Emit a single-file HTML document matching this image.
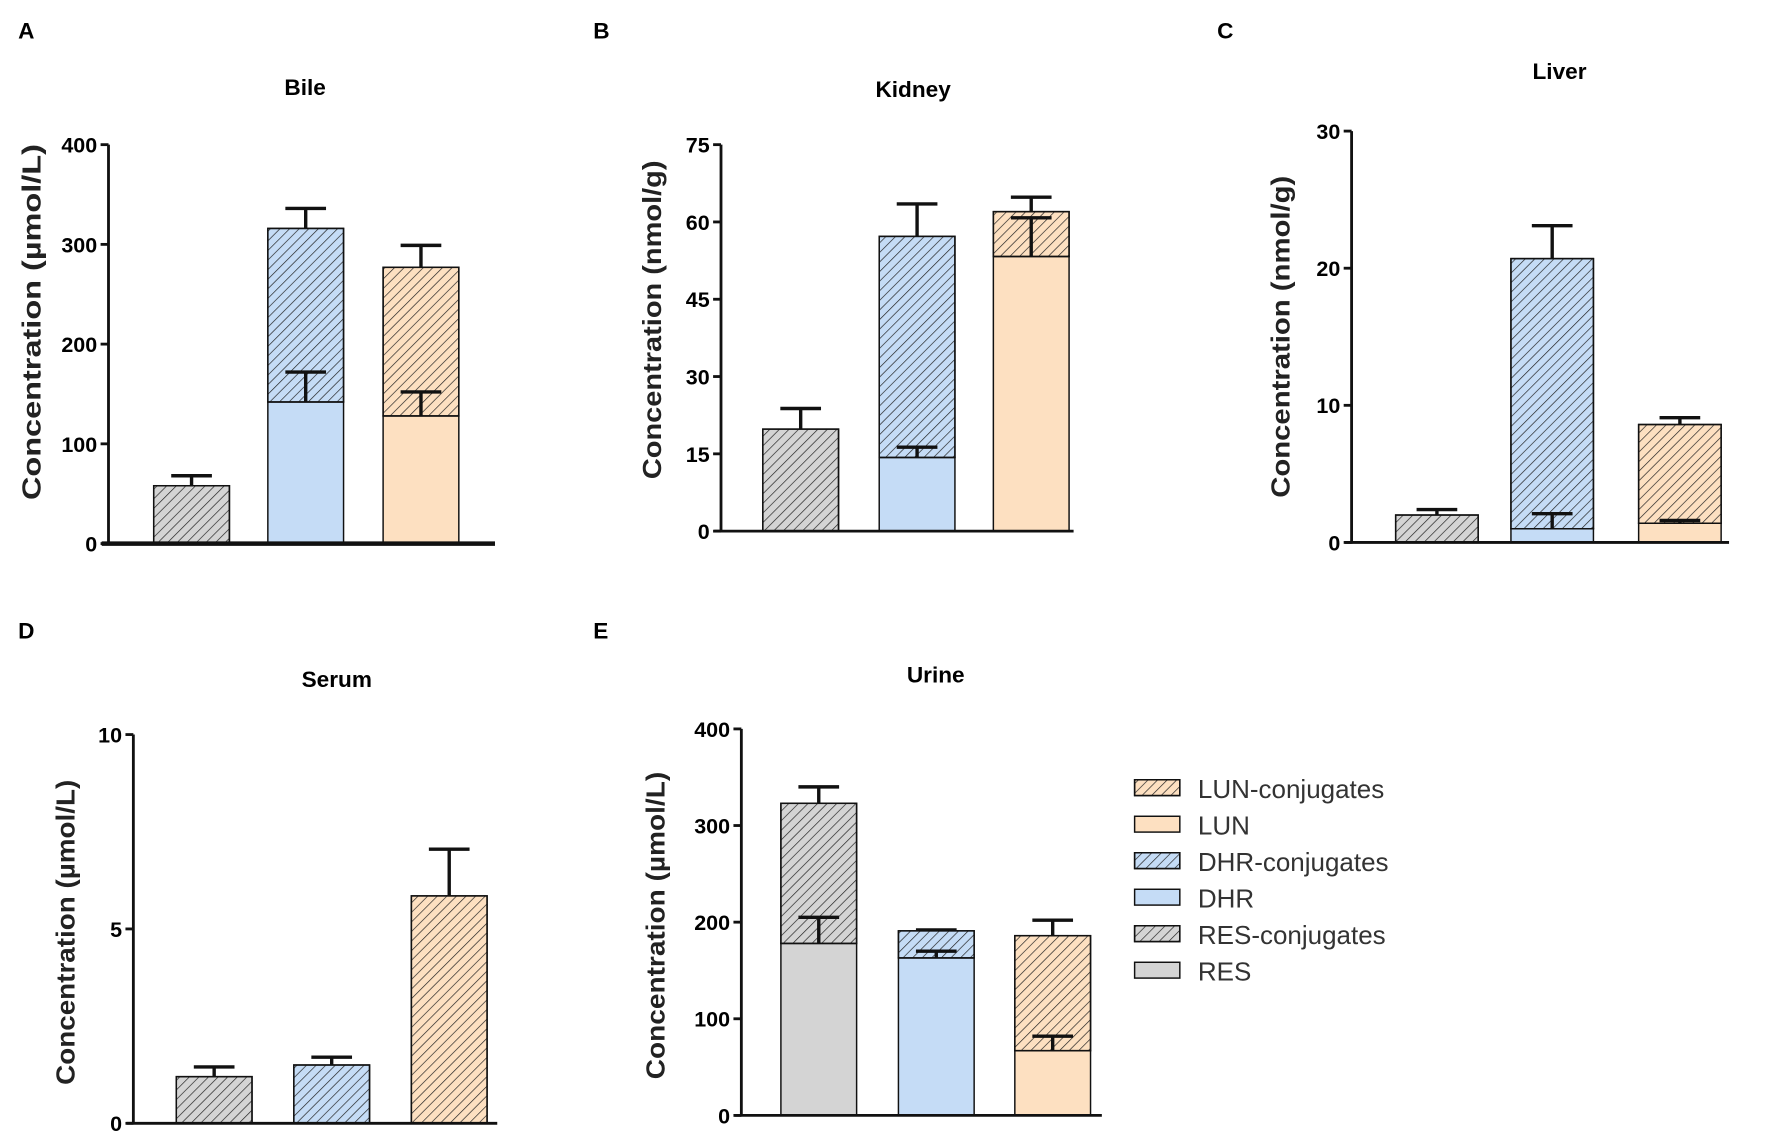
<!DOCTYPE html>
<html><head><meta charset="utf-8"><style>body{margin:0;background:#fff}svg{display:block}</style></head>
<body>
<svg id="fig" width="1772" height="1138" viewBox="0 0 1568 1007" xmlns="http://www.w3.org/2000/svg" font-family="Liberation Sans, Arial, sans-serif">
<defs>
<pattern id="hatch" patternUnits="userSpaceOnUse" width="6" height="6" patternTransform="rotate(45)"><line x1="0" y1="0" x2="0" y2="6" stroke="#222" stroke-width="1.2"/></pattern>
</defs>
</svg>
<script>
const colors = {RES:'#d4d4d4', DHR:'#c5dcf6', LUN:'#fde0c1'};
// Panel data
const bileCats = ['RES','DHR','LUN'];
const bileBase = [0, 142, 128];
const bileBaseErr = [0, 172, 152];
const bileTotal = [58, 316, 277];
const bileTotalErr = [68, 336, 299];
const kidneyBase = [0, 14.3, 53.3];
const kidneyBaseErr = [0, 16.3, 60.8];
const kidneyTotal = [19.8, 57.2, 62];
const kidneyTotalErr = [23.8, 63.5, 64.8];
const liverBase = [0, 1.0, 1.4];
const liverBaseErr = [0, 2.1, 1.6];
const liverTotal = [2.0, 20.7, 8.6];
const liverTotalErr = [2.4, 23.1, 9.1];
const serumBase = [0, 0, 0];
const serumBaseErr = [0, 0, 0];
const serumTotal = [1.2, 1.5, 5.85];
const serumTotalErr = [1.45, 1.7, 7.05];
const urineBase = [178, 163, 67];
const urineBaseErr = [205, 170, 82];
const urineTotal = [323, 191, 186];
const urineTotalErr = [340, 192, 202];
const bileTicks = [0,100,200,300,400];
const kidneyTicks = [0,15,30,45,60,75];
const liverTicks = [0,10,20,30];
const serumTicks = [0,5,10];
const urineTicks = [0,100,200,300,400];
const legendLabels = ['LUN-conjugates','LUN','DHR-conjugates','DHR','RES-conjugates','RES'];

const NS='http://www.w3.org/2000/svg';
const svg=document.getElementById('fig');
function mk(tag,attrs,parent){const e=document.createElementNS(NS,tag);for(const k in attrs)e.setAttribute(k,attrs[k]);(parent||svg).appendChild(e);return e;}
function txt(s,attrs,parent){const e=mk('text',attrs,parent);e.textContent=s;return e;}

const panels=[
 {id:'bile',letter:'A',lx:16,ly:34,title:'Bile',tx:270,ty:84,ax:96,y0:481,y1:128,max:400,x1:438,bx:[136,237,339],bw:67,base:bileBase,baseErr:bileBaseErr,tot:bileTotal,totErr:bileTotalErr,ticks:bileTicks,unit:'Concentration (µmol/L)',axw:4,utx:36,uty:285,ulen:315},
 {id:'kidney',letter:'B',lx:525,ly:34,title:'Kidney',tx:808,ty:86,ax:638,y0:470,y1:128,max:75,x1:950,bx:[675,778,879],bw:67,base:kidneyBase,baseErr:kidneyBaseErr,tot:kidneyTotal,totErr:kidneyTotalErr,ticks:kidneyTicks,unit:'Concentration (nmol/g)',axw:2.5,utx:585,uty:283,ulen:282},
 {id:'liver',letter:'C',lx:1077,ly:34,title:'Liver',tx:1380,ty:70,ax:1196,y0:480,y1:116,max:30,x1:1530,bx:[1235,1337,1450],bw:73,base:liverBase,baseErr:liverBaseErr,tot:liverTotal,totErr:liverTotalErr,ticks:liverTicks,unit:'Concentration (nmol/g)',axw:2.5,utx:1141,uty:298,ulen:285},
 {id:'serum',letter:'D',lx:16,ly:565,title:'Serum',tx:298,ty:608,ax:118,y0:994,y1:650,max:10,x1:440,bx:[156,260,364],bw:67,base:serumBase,baseErr:serumBaseErr,tot:serumTotal,totErr:serumTotalErr,ticks:serumTicks,unit:'Concentration (µmol/L)',axw:2.5,utx:66,uty:825,ulen:270},
 {id:'urine',letter:'E',lx:525,ly:565,title:'Urine',tx:828,ty:604,ax:656,y0:987,y1:645,max:400,x1:975,bx:[691,795,898],bw:67,base:urineBase,baseErr:urineBaseErr,tot:urineTotal,totErr:urineTotalErr,ticks:urineTicks,unit:'Concentration (µmol/L)',axw:2.5,utx:588,uty:819,ulen:272}
];

panels.forEach(p=>{
  const g=mk('g',{});
  
  
  const y=v=>p.y0-(v/p.max)*(p.y0-p.y1);
  const L=txt(p.letter,{x:p.lx,y:p.ly,'font-size':20,'font-weight':'bold'},g);
  
  
  const T=txt(p.title,{x:p.tx,y:p.ty,'font-size':20,'font-weight':'bold','text-anchor':'middle'},g);
  
  
  const yt=txt(p.unit,{x:0,y:0,'font-size':23,'font-weight':'bold',fill:'#222','text-anchor':'middle',textLength:p.ulen,lengthAdjust:'spacingAndGlyphs',transform:`translate(${p.utx},${p.uty}) rotate(-90)`},g);
  
  
  for(let i=0;i<3;i++){
    const c=colors[bileCats[i]], x=p.bx[i], w=p.bw;
    const b=p.base[i], t=p.tot[i];
    const e=p.totErr[i];
    const bx0=x+w/2;
    if(e>t){const l=mk('path',{d:`M${bx0},${y(t)}V${y(e)}M${bx0-18},${y(e)}H${bx0+18}`,stroke:'#111','stroke-width':3,fill:'none'},g);
      }
    if(b>0){const r=mk('rect',{x:x,y:y(b),width:w,height:y(0)-y(b),fill:c,stroke:'#111','stroke-width':1.3},g);
      }
    const r1=mk('rect',{x:x,y:y(t),width:w,height:y(b)-y(t),fill:c,stroke:'#111','stroke-width':1.3},g);
    
    mk('rect',{x:x,y:y(t),width:w,height:y(b)-y(t),fill:'url(#hatch)',stroke:'#111','stroke-width':1.3},g);
    const be=p.baseErr[i];
    if(b>0&&be>b){const l=mk('path',{d:`M${bx0},${y(b)}V${y(be)}M${bx0-18},${y(be)}H${bx0+18}`,stroke:'#111','stroke-width':3,fill:'none'},g);
      }
  }
  const ya=mk('line',{x1:p.ax,y1:p.y1,x2:p.ax,y2:p.y0+1,stroke:'#111','stroke-width':2.5},g);
  
  const xa=mk('line',{x1:p.ax-6,y1:p.y0,x2:p.x1,y2:p.y0,stroke:'#111','stroke-width':p.axw},g);
  
  p.ticks.forEach(v=>{
    mk('line',{x1:p.ax-7,y1:y(v),x2:p.ax,y2:y(v),stroke:'#111','stroke-width':2.5},g);
    const tl=txt(String(v),{x:p.ax-10,y:y(v)+7,'font-size':19,'font-weight':'bold','text-anchor':'end'},g);
    
  });
});

const lg=mk('g',{});


legendLabels.forEach((lab,i)=>{
  const cy=697+i*32.3;
  const key=lab.split('-')[0];
  const eg=mk('g',{},lg);
  
  
  mk('rect',{x:1004,y:cy-7,width:40,height:14,fill:colors[key],stroke:'#111','stroke-width':1.3},eg);
  if(lab.includes('conj'))mk('rect',{x:1004,y:cy-7,width:40,height:14,fill:'url(#hatch)',stroke:'#111','stroke-width':1.3},eg);
  txt(lab,{x:1060,y:cy+9,'font-size':23,fill:'#333'},eg);
});
</script>
</body></html>
